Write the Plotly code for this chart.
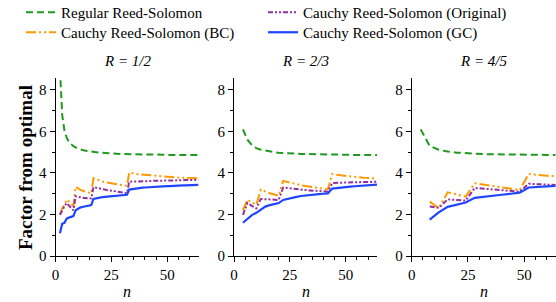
import plotly.graph_objects as go

# ---------------- data ----------------
# R = 1/2
n_half = list(range(2, 65))
rs_half = [9.0, 6.8, 6.05, 5.7, 5.5, 5.37, 5.29, 5.23, 5.18, 5.14, 5.11, 5.08, 5.06, 5.04, 5.03, 5.01,
           5.0, 4.99, 4.98, 4.97, 4.96, 4.95, 4.95, 4.94, 4.93, 4.93, 4.92, 4.92, 4.91, 4.91, 4.91,
           4.9, 4.9, 4.9, 4.9, 4.89, 4.89, 4.89, 4.89, 4.89, 4.88, 4.88, 4.88, 4.88, 4.88, 4.88, 4.88, 4.87,
           4.87, 4.87, 4.87, 4.87, 4.87, 4.87, 4.87, 4.87, 4.87, 4.87, 4.87, 4.87, 4.87, 4.87, 4.87]
bc_half = [2.0, 2.3, 2.45, 2.72, 2.62, 2.5, 2.4, 3.33, 3.25, 3.2, 3.15, 3.11, 3.08, 3.05, 3.02,
           3.75, 3.70, 3.66, 3.62, 3.59, 3.56, 3.54, 3.52, 3.50, 3.48, 3.46, 3.44, 3.42, 3.41, 3.39, 3.38,
           4.02, 3.99, 3.97, 3.96, 3.94, 3.93, 3.92, 3.90, 3.89, 3.88, 3.87, 3.86, 3.85, 3.84, 3.83, 3.82,
           3.82, 3.81, 3.80, 3.80, 3.79, 3.78, 3.78, 3.77, 3.77, 3.76, 3.76, 3.75, 3.75, 3.75, 3.74, 3.74]
orig_half = [1.98, 2.2, 2.4, 2.55, 2.42, 2.3, 2.2, 2.88, 2.85, 2.83, 2.81, 2.8, 2.79, 2.78, 2.77,
             3.32, 3.29, 3.26, 3.24, 3.22, 3.2, 3.18, 3.16, 3.14, 3.13, 3.11, 3.1, 3.08, 3.07, 3.05, 3.03,
             3.58, 3.58, 3.59, 3.59, 3.60, 3.60, 3.60, 3.61, 3.61, 3.61, 3.62, 3.62, 3.62, 3.63, 3.63, 3.63,
             3.63, 3.64, 3.64, 3.64, 3.64, 3.65, 3.65, 3.65, 3.65, 3.66, 3.66, 3.66, 3.66, 3.67, 3.67, 3.67]
gc_half = [1.1, 1.55, 1.6, 1.8, 1.85, 1.9, 1.92, 2.2, 2.28, 2.33, 2.36, 2.39, 2.41, 2.43, 2.45,
           2.75, 2.78, 2.8, 2.82, 2.84, 2.85, 2.86, 2.87, 2.88, 2.89, 2.9, 2.91, 2.92, 2.93, 2.94, 2.95,
           3.2, 3.22, 3.24, 3.26, 3.27, 3.28, 3.29, 3.30, 3.31, 3.32, 3.33, 3.34, 3.34, 3.35, 3.35, 3.36,
           3.36, 3.37, 3.37, 3.38, 3.38, 3.39, 3.39, 3.40, 3.40, 3.40, 3.41, 3.41, 3.42, 3.42, 3.42, 3.43]

# R = 2/3
n_two = list(range(4, 65, 2))
rs_two = [6.1, 5.6, 5.35, 5.2, 5.12, 5.07, 5.03, 5.0, 4.98, 4.96, 4.95, 4.94, 4.93, 4.92, 4.91, 4.91,
          4.9, 4.9, 4.89, 4.89, 4.89, 4.88, 4.88, 4.88, 4.88, 4.87, 4.87, 4.87, 4.87, 4.87, 4.87]
bc_two = [2.2, 2.72, 2.58, 2.47, 3.2, 3.1, 3.02, 2.96, 2.9, 3.62, 3.56, 3.5, 3.45, 3.41, 3.37, 3.33,
          3.3, 3.27, 3.24, 3.21, 3.95, 3.91, 3.88, 3.85, 3.83, 3.81, 3.79, 3.77, 3.76, 3.75, 3.74]
orig_two = [1.98, 2.55, 2.42, 2.3, 2.75, 2.73, 2.72, 2.71, 2.7, 3.3, 3.27, 3.24, 3.22, 3.2, 3.18, 3.16,
            3.15, 3.13, 3.12, 3.1, 3.52, 3.53, 3.54, 3.54, 3.55, 3.55, 3.56, 3.56, 3.57, 3.57, 3.58]
gc_two = [1.6, 1.8, 1.97, 2.08, 2.25, 2.38, 2.45, 2.5, 2.55, 2.7, 2.76, 2.81, 2.85, 2.89, 2.92, 2.94,
          2.96, 2.98, 3.0, 3.02, 3.25, 3.28, 3.3, 3.32, 3.34, 3.36, 3.38, 3.4, 3.41, 3.43, 3.44]

# R = 4/5
n_four_rs = list(range(4, 65, 4))
rs_four = [6.1, 5.3, 5.12, 5.03, 4.98, 4.95, 4.93, 4.91, 4.9, 4.89, 4.89, 4.88, 4.88, 4.87, 4.87, 4.87]
n_four = list(range(8, 65, 4))
bc_four = [2.62, 2.3, 3.07, 2.95, 2.86, 3.5, 3.43, 3.36, 3.29, 3.23, 3.18, 3.95, 3.9, 3.87, 3.85]
orig_four = [2.38, 2.32, 2.73, 2.7, 2.67, 3.28, 3.24, 3.2, 3.16, 3.13, 3.1, 3.48, 3.46, 3.44, 3.42]
gc_four = [1.75, 2.1, 2.37, 2.47, 2.58, 2.8, 2.86, 2.9, 2.95, 3.0, 3.05, 3.3, 3.33, 3.36, 3.38]

panel_titles = ["R = 1/2", "R = 2/3", "R = 4/5"]
series_names = ["Regular Reed-Solomon", "Cauchy Reed-Solomon (BC)",
                "Cauchy Reed-Solomon (Original)", "Cauchy Reed-Solomon (GC)"]

# ---------------- styling ----------------
FONT = "Liberation Serif"
W, H = 556, 302


def fx(px):
    return px / W


def fy(py):
    return (H - py) / H


colors = ["#1f9a1f", "#ff9900", "#932e9b", "#1f45ff"]
dashes = ["7px,4px", "10px,3px,2px,3px,2px,3px", "5px,2px,2px,2px,2px,2px", "solid"]
widths = [2, 2, 2, 2.2]
legend_ids = ["legend", "legend3", "legend2", "legend4"]

panels = [
    (n_half, n_half, [rs_half, bc_half, orig_half, gc_half]),
    (n_two, n_two, [rs_two, bc_two, orig_two, gc_two]),
    (n_four_rs, n_four, [rs_four, bc_four, orig_four, gc_four]),
]

# panel extents in window pixels
x_px = [(55.5, 198.5), (234.0, 377.0), (411.7, 555.7)]
y_px = (256.0, 77.5)  # bottom, top

fig = go.Figure()

for p, (xr, xo, ys) in enumerate(panels):
    sfx = "" if p == 0 else str(p + 1)
    for s in range(4):
        xs = xr if s == 0 else xo
        fig.add_trace(go.Scatter(
            x=xs, y=ys[s], mode="lines", name=series_names[s],
            line=dict(color=colors[s], dash=dashes[s], width=widths[s]),
            xaxis="x" + sfx, yaxis="y" + sfx,
            showlegend=(p == 0), legend=legend_ids[s],
        ))

axis_common = dict(
    showline=True, linecolor="black", linewidth=1, showgrid=False, zeroline=False,
    ticks="outside", ticklen=5, tickcolor="black", tickwidth=1,
    tickfont=dict(family=FONT, size=15, color="black"),
)

layout = dict(
    width=W, height=H, margin=dict(l=0, r=0, t=0, b=0, pad=0, autoexpand=False),
    paper_bgcolor="white", plot_bgcolor="white",
    font=dict(family=FONT, size=15, color="black"),
)

for p in range(3):
    sfx = "" if p == 0 else str(p + 1)
    x0, x1 = x_px[p]
    layout["xaxis" + sfx] = dict(
        axis_common, domain=[fx(x0), min(fx(x1), 1.0)], range=[0, 64],
        anchor="y" + sfx, tick0=0, dtick=25,
        minor=dict(dtick=5, ticks="outside", ticklen=3, tickcolor="black"),
    )
    layout["yaxis" + sfx] = dict(
        axis_common, domain=[fy(y_px[0]), fy(y_px[1])], range=[0, 8.6],
        anchor="x" + sfx, tick0=0, dtick=2,
        minor=dict(dtick=1, ticks="outside", ticklen=3, tickcolor="black"),
    )

leg_common = dict(font=dict(family=FONT, size=15, color="black"), bgcolor="rgba(0,0,0,0)",
                  borderwidth=0, xanchor="left", yanchor="top", orientation="v")
# (legend box left, legend box top) in window pixels
leg_pos = {"legend": (21, -4), "legend2": (263, -4), "legend3": (21, 16), "legend4": (263, 16)}
for lid, (lx, ly) in leg_pos.items():
    layout[lid] = dict(leg_common, x=fx(lx), y=fy(ly))

annotations = []
for p in range(3):
    x0, x1 = x_px[p]
    cx = fx((x0 + x1) / 2)
    annotations.append(dict(text="<i>" + panel_titles[p] + "</i>", x=cx, y=fy(61.5),
                            xref="paper", yref="paper", showarrow=False, xanchor="center",
                            yanchor="middle", font=dict(family=FONT, size=15, color="black")))
    annotations.append(dict(text="<i>n</i>", x=cx, y=fy(291),
                            xref="paper", yref="paper", showarrow=False, xanchor="center",
                            yanchor="middle", font=dict(family=FONT, size=16, color="black")))
annotations.append(dict(text="<b>Factor from optimal</b>", x=fx(25), y=fy(168),
                        xref="paper", yref="paper", showarrow=False, textangle=-90,
                        xanchor="center", yanchor="middle",
                        font=dict(family=FONT, size=19, color="black")))
layout["annotations"] = annotations

fig.update_layout(**layout)
fig.write_html("out.html", config={"displayModeBar": False},
               post_script="document.body.style.margin='0';")
